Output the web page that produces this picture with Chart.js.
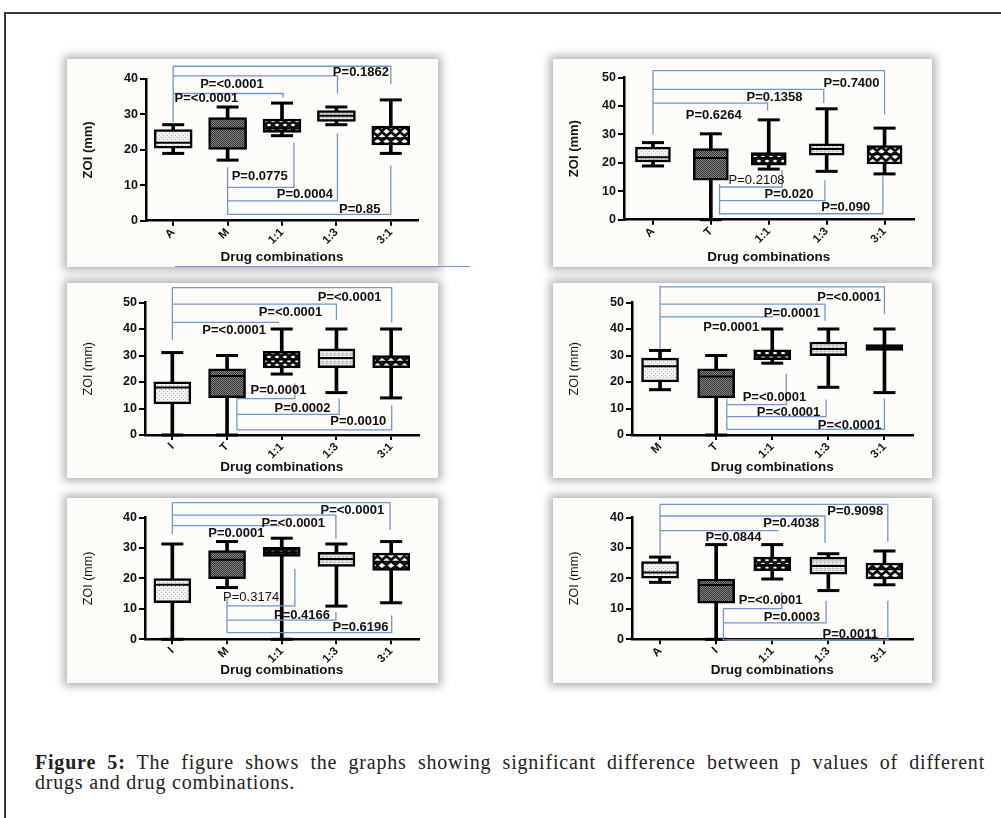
<!DOCTYPE html>
<html><head><meta charset="utf-8">
<script src="https://cdn.jsdelivr.net/npm/chart.js@4.4.0/dist/chart.umd.min.js"></script>
<style>
html,body{margin:0;padding:0;background:#fff;width:1001px;height:818px;overflow:hidden;}
#frame{position:absolute;left:4px;top:12px;width:1000px;height:810px;border-left:2px solid #3a3a3a;border-top:2px solid #3a3a3a;}
.panel{position:absolute;background:#fdfcf8;box-shadow:0 0 9px 3px rgba(0,0,0,0.33);}
.panel canvas{display:block;}
#stray{position:absolute;left:175px;top:266px;width:295px;height:1px;background:#6f97cf;z-index:5;}
#caption{position:absolute;left:35px;top:752px;width:950px;font-family:'Liberation Serif',serif;font-size:20px;letter-spacing:0.8px;line-height:20px;color:#222;}
.l1{text-align:justify;text-align-last:justify;white-space:nowrap;}
</style></head>
<body>
<div id="frame"></div>
<div class="panel" style="left:67px;top:59px;width:371px;height:208px"><canvas id="c1" width="371" height="208"></canvas></div>
<div class="panel" style="left:553px;top:59px;width:379px;height:208px"><canvas id="c2" width="379" height="208"></canvas></div>
<div class="panel" style="left:67px;top:283px;width:371px;height:195px"><canvas id="c3" width="371" height="195"></canvas></div>
<div class="panel" style="left:553px;top:283px;width:379px;height:195px"><canvas id="c4" width="379" height="195"></canvas></div>
<div class="panel" style="left:67px;top:498px;width:371px;height:185px"><canvas id="c5" width="371" height="185"></canvas></div>
<div class="panel" style="left:553px;top:498px;width:379px;height:185px"><canvas id="c6" width="379" height="185"></canvas></div>
<div id="stray"></div>
<div id="caption"><div class="l1"><b>Figure 5:</b> The figure shows the graphs showing significant difference between p values of different</div><div>drugs and drug combinations.</div></div>
<script>
// ---------- DATA ----------
const yAxisTitle = 'ZOI (mm)';
const xAxisTitle = 'Drug combinations';

const p1Categories = ['A','M','1:1','1:3','3:1'];
const p1Min    = [19, 17.1, 24, 27.1, 19];
const p1Q1     = [20.5, 20.1, 24.9, 28, 21.4];
const p1Median = [22, 26, 26, 29.6, 23.3];
const p1Q3     = [25.7, 29.1, 28.7, 31.1, 26.7];
const p1Max    = [27.1, 32.1, 33.2, 32.1, 34.1];
const p1Brackets = [[0,4,43.6,38.6],[0,3.02,40.9,35.9],[0,2.02,35.9,34.8],[1,2.22,9.4,22.1],[1,3.02,5.6,24.6],[1,4,1.8,15.6]];
const p1Stems = [[0,43.6,27.8],[1,15.1,1.7]];
const p1PLabels = ['P=0.1862','P=<0.0001','P=<0.0001','P=0.0775','P=0.0004','P=0.85'];
const p1PLabelAt = [[3.45,41.8],[1.08,38.6],[0.61,34.6],[1.59,12.4],[2.42,7.4],[3.43,3.2]];

const p2Categories = ['A','T','1:1','1:3','3:1'];
const p2Min    = [18.9, 0, 17.8, 17, 16.1];
const p2Q1     = [20.3, 13.9, 19.2, 22.7, 19.6];
const p2Median = [22, 21.7, 21.7, 24.9, 23];
const p2Q3     = [25.5, 25, 23.6, 26.7, 26.1];
const p2Max    = [27.1, 30.2, 35.1, 39, 32.2];
const p2Brackets = [[0,4,52.4,37],[0,2.95,45.8,41],[0,1.98,41,38.4],[1.15,2.23,11.5,17.5],[1.15,2.97,6.7,13.9],[1.15,3.97,2.1,15.3]];
const p2Stems = [[0,52.4,30],[1.15,12.5,1.8]];
const p2PLabels = ['P=0.7400','P=0.1358','P=0.6264','P=0.2108','P=0.020','P=0.090'];
const p2PLabelAt = [[3.43,48],[2.1,43],[1.05,36.5],[1.79,13.7],[2.35,9],[3.33,4.3]];

const p3Categories = ['I','T','1:1','1:3','3:1'];
const p3Min    = [0, 0, 23, 16, 14];
const p3Q1     = [11.75, 14.1, 25.3, 25.4, 25.4];
const p3Median = [17.9, 22.3, 28.5, 29.1, 27.6];
const p3Q3     = [20.1, 25, 31.6, 32.5, 30];
const p3Max    = [31.1, 30, 40, 40, 40];
const p3Brackets = [[0,4.01,55.6,42.5],[0,3,49.4,43.4],[0,1.95,42.5,42.5],[1.18,2.24,13.75,19.4],[1.18,3.05,7.75,13.75],[1.18,4.01,1.9,11.25]];
const p3Stems = [[0,55.6,35.9],[1.18,13.75,1.9]];
const p3PLabels = ['P=<0.0001','P=<0.0001','P=<0.0001','P=0.0001','P=0.0002','P=0.0010'];
const p3PLabelAt = [[3.24,52.1],[2.16,46.2],[1.13,39.6],[1.94,16.9],[2.38,10],[3.4,5]];

const p4Categories = ['M','T','1:1','1:3','3:1'];
const p4Min    = [17.1, 0, 27.1, 18, 16];
const p4Q1     = [20, 14, 28.4, 29.9, 31.9];
const p4Median = [25.9, 22.1, 30, 32.5, 33.1];
const p4Q3     = [29, 25, 32.1, 35.1, 34.1];
const p4Max    = [31.9, 30, 40, 40, 40];
const p4Brackets = [[0,4,55.9,45.6],[0,2.94,49.4,43.1],[0,2.01,44.6,44.6],[1.19,2.25,11.5,23.1],[1.19,2.96,6.9,13.4],[1.19,4,2.1,13.75]];
const p4Stems = [[0,56.3,32.5],[1.19,13.75,2.1]];
const p4PLabels = ['P=<0.0001','P=0.0001','P=0.0001','P=<0.0001','P=<0.0001','P=<0.0001'];
const p4PLabelAt = [[3.37,52.1],[2.35,46],[1.27,40.6],[2.04,14.1],[2.29,8.5],[3.38,3.5]];

const p5Categories = ['I','M','1:1','1:3','3:1'];
const p5Min    = [0, 17, 0, 10.9, 12];
const p5Q1     = [12, 19.9, 27.2, 23.9, 22.6];
const p5Median = [17.9, 26.1, 28.6, 26.4, 25.5];
const p5Q3     = [19.9, 29.1, 30.2, 28.6, 28.3];
const p5Max    = [31.3, 32.1, 33.2, 31.3, 32.1];
const p5Brackets = [[0,3.98,44.9,35.9],[0,2.99,40.8,32.9],[0,1.96,37.3,37.3],[1,2.24,11,23.2],[1,2.99,6.3,9],[1,4.01,2.2,7.9]];
const p5Stems = [[0,44.9,34.6],[1,13.9,2.2]];
const p5PLabels = ['P=<0.0001','P=<0.0001','P=0.0001','P=0.3174','P=0.4166','P=0.6196'];
const p5PLabelAt = [[3.29,42.2],[2.21,38.2],[1.17,34.8],[1.44,13.7],[2.37,7.9],[3.44,3.9]];

const p6Categories = ['A','I','1:1','1:3','3:1'];
const p6Min    = [18.7, 0, 19.8, 16, 17.9];
const p6Q1     = [20.1, 11.9, 22.5, 21.4, 19.8];
const p6Median = [21.9, 17.8, 24.4, 24.1, 23];
const p6Q3     = [25.5, 19.8, 27, 27, 25];
const p6Max    = [27, 31.1, 31.1, 28.1, 29];
const p6Brackets = [[0,4.06,44.3,32],[0,2.94,40.5,31.7],[0,2.11,35.7,35.7],[1.13,2.17,10.1,15.4],[1.13,2.96,5.4,12.7],[1.13,4.06,-0.2,12.7]];
const p6Stems = [[0,44.3,27.9],[1.13,10.1,-0.2]];
const p6PLabels = ['P=0.9098','P=0.4038','P=0.0844','P=<0.0001','P=0.0003','P=0.0011'];
const p6PLabelAt = [[3.48,41.9],[2.34,38],[1.31,33.5],[1.97,12.7],[2.35,7.3],[3.39,1.7]];

// labels set in regular weight: [panel, labelIndex]
const regularLabels = [[2,3],[5,3]];

// ---------- STYLE / LAYOUT ----------
const layouts = {
  c1:{W:371,H:208,L:79,R:360,T:14.3,B:161.7,xPad:2,yMax:40,box:38,yBold:true},
  c2:{W:379,H:208,L:71,R:372,T:9.3,B:160.7,xPad:2,yMax:50,box:35,yBold:true},
  c3:{W:371,H:195,L:78,R:360,T:18.7,B:152,xPad:2.5,yMax:50,box:37,yBold:false},
  c4:{W:379,H:195,L:79,R:369,T:18.7,B:152,xPad:2.5,yMax:50,box:37,yBold:false},
  c5:{W:371,H:185,L:78,R:360,T:18.7,B:141.3,xPad:4.5,yMax:40,box:37,yBold:false},
  c6:{W:379,H:185,L:79,R:369,T:18,B:141.3,xPad:4.5,yMax:40,box:37,yBold:false}
};

Chart.defaults.font.family = "'Liberation Sans', Arial, sans-serif";
Chart.defaults.color = '#111';

function makePattern(kind){
  const c = document.createElement('canvas');
  const x = c.getContext('2d');
  if(kind==='dots'){
    c.width=4;c.height=4;
    x.fillStyle='#f3f3f1';x.fillRect(0,0,4,4);
    x.fillStyle='#b0b0b0';x.fillRect(0,0,1,1);x.fillRect(2,2,1,1);
  } else if(kind==='dense'){
    c.width=2;c.height=2;
    x.fillStyle='#858585';x.fillRect(0,0,2,2);
    x.fillStyle='#333';x.fillRect(0,0,1,1);x.fillRect(1,1,1,1);
  } else if(kind==='check'){
    c.width=8;c.height=8;
    x.fillStyle='#111';x.fillRect(0,0,8,8);
    x.fillStyle='#fff';
    x.beginPath();x.ellipse(2,2,1.9,1.3,0,0,Math.PI*2);x.fill();
    x.beginPath();x.ellipse(6,6,1.9,1.3,0,0,Math.PI*2);x.fill();
  } else if(kind==='stripe'){
    c.width=4;c.height=4;
    x.fillStyle='#c9c9c9';x.fillRect(0,0,4,4);
    x.fillStyle='#fafafa';x.fillRect(0,1,3,1);x.fillRect(1,3,2,1);
  } else if(kind==='diamond'){
    c.width=9;c.height=10;
    x.fillStyle='#111';x.fillRect(0,0,9,10);
    x.fillStyle='#fff';
    const d=(cx,cy)=>{x.beginPath();x.moveTo(cx-3.2,cy);x.lineTo(cx,cy-2.4);x.lineTo(cx+3.2,cy);x.lineTo(cx,cy+2.4);x.closePath();x.fill();};
    d(4.5,2.5);d(0,7.5);d(9,7.5);
  }
  return x.createPattern(c,'repeat');
}
const patternOrder = ['dots','dense','check','stripe','diamond'];

const bracketPlugin = {
  id:'brackets',
  afterDatasetsDraw(chart){
    const o = chart.options.plugins.brackets;
    const xs = chart.scales.x, ys = chart.scales.y, ctx = chart.ctx;
    ctx.save();
    ctx.strokeStyle = '#6f97cf';
    ctx.lineWidth = 1.3;
    o.brackets.forEach(b=>{
      const x1=xs.getPixelForValue(b[0]), x2=xs.getPixelForValue(b[1]);
      const y=ys.getPixelForValue(b[2]), ye=ys.getPixelForValue(b[3]);
      ctx.beginPath();ctx.moveTo(x1,y);ctx.lineTo(x2,y);ctx.lineTo(x2,ye);ctx.stroke();
    });
    o.stems.forEach(s=>{
      const x=xs.getPixelForValue(s[0]);
      ctx.beginPath();ctx.moveTo(x,ys.getPixelForValue(s[1]));ctx.lineTo(x,ys.getPixelForValue(s[2]));ctx.stroke();
    });
    ctx.textAlign='center';ctx.textBaseline='middle';ctx.fillStyle='#111';
    o.labels.forEach((t,i)=>{
      const reg = o.regular.includes(i);
      ctx.font = (reg?'':'bold ')+"13px 'Liberation Sans', Arial, sans-serif";
      ctx.fillText(t, xs.getPixelForValue(o.at[i][0]), ys.getPixelForValue(o.at[i][1]));
    });
    ctx.restore();
  }
};

function build(id, cats, mn, q1, med, q3, mx, brackets, stems, labels, at, panelNo){
  const L = layouts[id];
  const boxes = q1.map((v,i)=>[v,q3[i]]);
  const whisk = mn.map((v,i)=>[v,mx[i]]);
  const pats = cats.map((c,i)=>makePattern(patternOrder[i]));
  new Chart(document.getElementById(id), {
    type:'bar',
    data:{
      labels:cats,
      datasets:[
        {type:'line',data:mx,showLine:false,pointStyle:'line',pointRadius:11,pointBorderWidth:3,pointBorderColor:'#000',order:0,clip:false},
        {type:'line',data:mn,showLine:false,pointStyle:'line',pointRadius:11,pointBorderWidth:3,pointBorderColor:'#000',order:0,clip:false},
        {type:'line',data:med,showLine:false,pointStyle:'line',pointRadius:L.box/2-1,pointBorderWidth:2,pointBorderColor:'#000',order:0,clip:false},
        {type:'bar',data:boxes,backgroundColor:pats,borderColor:'#000',borderWidth:2.5,borderSkipped:false,barThickness:L.box,grouped:false,order:1,clip:false},
        {type:'bar',data:whisk,backgroundColor:'#000',borderWidth:0,barThickness:3,grouped:false,order:2,clip:false}
      ]
    },
    options:{
      responsive:false,animation:false,events:[],
      layout:{padding:{left:8,top:L.T,right:L.W-L.R,bottom:0}},
      plugins:{legend:{display:false},tooltip:{enabled:false},
        brackets:{brackets:brackets,stems:stems,labels:labels,at:at,regular:regularLabels.filter(r=>r[0]===panelNo).map(r=>r[1])}},
      scales:{
        x:{
          offset:true,
          afterFit(s){s.height = L.H - L.B;},
          grid:{offset:false,drawOnChartArea:false,drawTicks:true,tickLength:5,color:'#000',lineWidth:2},
          border:{display:true,color:'#000',width:2.5},
          ticks:{minRotation:45,maxRotation:45,autoSkip:false,padding:0,font:{size:11.5,weight:'bold'},color:'#111'},
          title:{display:true,text:xAxisTitle,font:{size:13.5,weight:'bold'},color:'#111',padding:{top:0,bottom:L.xPad}}
        },
        y:{
          min:0,max:L.yMax,
          afterFit(s){s.width = L.L - 8;},
          grid:{drawOnChartArea:false,drawTicks:true,tickLength:6,color:'#000',lineWidth:2},
          border:{display:true,color:'#000',width:2.5},
          ticks:{stepSize:10,padding:2,font:{size:12.5,weight:'bold'},color:'#111'},
          title:{display:true,text:yAxisTitle,font:{size:L.yBold?13:12.5,weight:L.yBold?'bold':'normal'},color:'#111',padding:{top:6,bottom:0}}
        }
      }
    },
    plugins:[bracketPlugin]
  });
}

build('c1',p1Categories,p1Min,p1Q1,p1Median,p1Q3,p1Max,p1Brackets,p1Stems,p1PLabels,p1PLabelAt,1);
build('c2',p2Categories,p2Min,p2Q1,p2Median,p2Q3,p2Max,p2Brackets,p2Stems,p2PLabels,p2PLabelAt,2);
build('c3',p3Categories,p3Min,p3Q1,p3Median,p3Q3,p3Max,p3Brackets,p3Stems,p3PLabels,p3PLabelAt,3);
build('c4',p4Categories,p4Min,p4Q1,p4Median,p4Q3,p4Max,p4Brackets,p4Stems,p4PLabels,p4PLabelAt,4);
build('c5',p5Categories,p5Min,p5Q1,p5Median,p5Q3,p5Max,p5Brackets,p5Stems,p5PLabels,p5PLabelAt,5);
build('c6',p6Categories,p6Min,p6Q1,p6Median,p6Q3,p6Max,p6Brackets,p6Stems,p6PLabels,p6PLabelAt,6);
</script>
</body></html>
